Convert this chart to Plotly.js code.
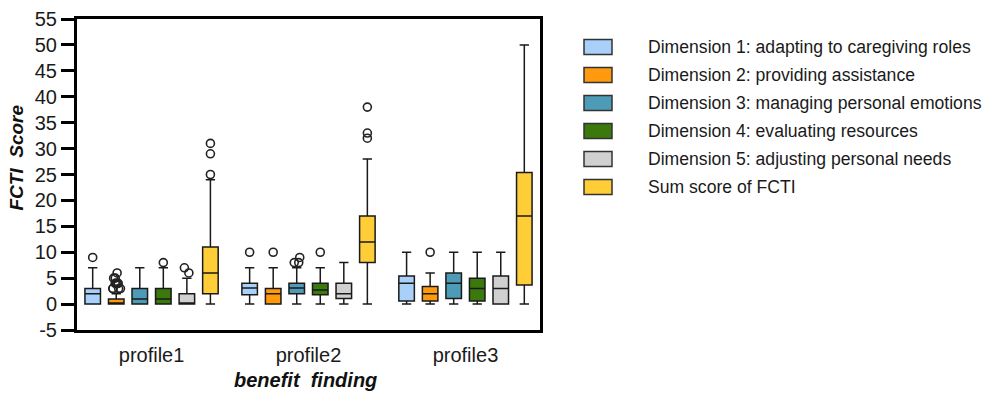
<!DOCTYPE html>
<html><head><meta charset="utf-8">
<script src="https://cdn.plot.ly/plotly-3.0.1.min.js"></script>
<style>html,body{margin:0;padding:0;background:#fff}#chart{width:985px;height:395px}</style>
</head><body><div id="chart"></div>
<script>
// ---- data ----
const categories = ['profile1', 'profile2', 'profile3'];
const seriesNames = [
  'Dimension 1: adapting to caregiving roles',
  'Dimension 2: providing assistance',
  'Dimension 3: managing personal emotions',
  'Dimension 4: evaluating resources',
  'Dimension 5: adjusting personal needs',
  'Sum score of FCTI'
];
const seriesColors = ['#a9d0f8', '#ff9a0e', '#4e9bb7', '#3b790c', '#d0d0d0', '#ffcd38'];
// one row per series, one value per profile
const q1Values     = [[0, 1.8, 0.6], [0, 0, 0.6], [0, 2, 1.1], [0, 1.8, 0.6], [0, 1.1, 0], [2, 8, 3.7]];
const medianValues = [[2, 3.1, 4], [0, 2, 2], [1, 3.1, 4], [1, 2.7, 3], [0, 2, 3], [6, 12, 17]];
const q3Values     = [[3, 4, 5.4], [1, 3, 3.4], [3, 4, 6], [3, 4, 5], [2, 4, 5.4], [11, 17, 25.4]];
const lowerValues  = [[0, 0, 0], [0, 0, 0], [0, 0, 0], [0, 0, 0], [0, 0, 0], [0, 0, 0]];
const upperValues  = [[7, 7, 10], [2, 7, 6], [7, 7, 10], [7, 7, 10], [5, 8, 10], [24, 28, 50]];
// outliers per box (null = no outlier for that box)
const outlierValues = [
  [[9], [10], [null]],
  [[3, 3, 3, 3, 4, 4, 4, 4, 5, 5, 6], [10], [10]],
  [[null], [8, 8, 9], [null]],
  [[8], [10], [null]],
  [[6, 7], [null], [null]],
  [[25, 29, 31], [32, 33, 38], [null]]
];
const yTickValues = [-5, 0, 5, 10, 15, 20, 25, 30, 35, 40, 45, 50, 55];
const jitterBySeries = [0, 0.7, 0.5, 0, 0.5, 0];

// ---- layout helpers (pixel -> paper) ----
const L = 77, T = 19, W = 463, H = 311;
const PX = px => (px - L) / W;
const PY = py => (T + H - py) / H;
const FONT = 'Liberation Sans, Arial, sans-serif';

const traces = seriesNames.map((name, i) => ({
  type: 'box',
  name: name,
  x: categories,
  y: outlierValues[i],
  q1: q1Values[i],
  median: medianValues[i],
  q3: q3Values[i],
  lowerfence: lowerValues[i],
  upperfence: upperValues[i],
  boxpoints: 'outliers',
  jitter: jitterBySeries[i],
  pointpos: 0,
  whiskerwidth: 0.6,
  fillcolor: seriesColors[i],
  line: {color: '#1a1a1a', width: 1.5},
  marker: {symbol: 'circle-open', size: 8, color: '#222', line: {width: 1.6, color: '#222'}},
  showlegend: false,
  hoverinfo: 'skip'
}));

const shapes = [];
const annotations = [];
seriesNames.forEach((name, i) => {
  const cy = 47 + 28 * i;
  shapes.push({
    type: 'rect', xref: 'paper', yref: 'paper',
    x0: PX(584), x1: PX(612), y0: PY(cy + 7.5), y1: PY(cy - 7.5),
    fillcolor: seriesColors[i], line: {color: '#333', width: 1.5}
  });
  annotations.push({
    xref: 'paper', yref: 'paper', x: PX(646), y: PY(cy),
    xanchor: 'left', yanchor: 'middle', showarrow: false,
    text: name, font: {family: FONT, size: 17.6, color: '#1a1a1a'}
  });
});
annotations.push({
  xref: 'paper', yref: 'paper', x: PX(16), y: PY(157.5),
  xanchor: 'center', yanchor: 'middle', showarrow: false, textangle: -90,
  text: '<b><i>FCTI  Score</i></b>', font: {family: FONT, size: 19, color: '#111'}
});
annotations.push({
  xref: 'paper', yref: 'paper', x: PX(305), y: PY(380),
  xanchor: 'center', yanchor: 'middle', showarrow: false,
  text: '<b><i>benefit  finding</i></b>', font: {family: FONT, size: 20, color: '#111'}
});

const layout = {
  width: 985, height: 395,
  margin: {l: L, t: T, r: 985 - L - W, b: 395 - T - H, pad: 0},
  paper_bgcolor: '#fff', plot_bgcolor: '#fff',
  boxmode: 'group', boxgap: 0.1, boxgroupgap: 0.34,
  showlegend: false,
  xaxis: {
    type: 'category', categoryarray: categories, range: [-0.475, 2.475],
    showline: true, linecolor: '#000', linewidth: 3, mirror: true,
    ticks: 'outside', ticklen: 5, tickcolor: 'rgba(0,0,0,0)',
    showgrid: false, zeroline: false,
    tickfont: {family: FONT, size: 20, color: '#1a1a1a'}
  },
  yaxis: {
    range: [-5, 55], tickvals: yTickValues, ticktext: yTickValues.map(String),
    showline: true, linecolor: '#000', linewidth: 3, mirror: true,
    ticks: 'outside', ticklen: 13, tickwidth: 3, tickcolor: '#000',
    showgrid: false, zeroline: false,
    tickfont: {family: FONT, size: 20, color: '#1a1a1a'}
  },
  shapes: shapes,
  annotations: annotations
};

Plotly.newPlot('chart', traces, layout, {displayModeBar: false, staticPlot: true});
</script>
</body></html>
